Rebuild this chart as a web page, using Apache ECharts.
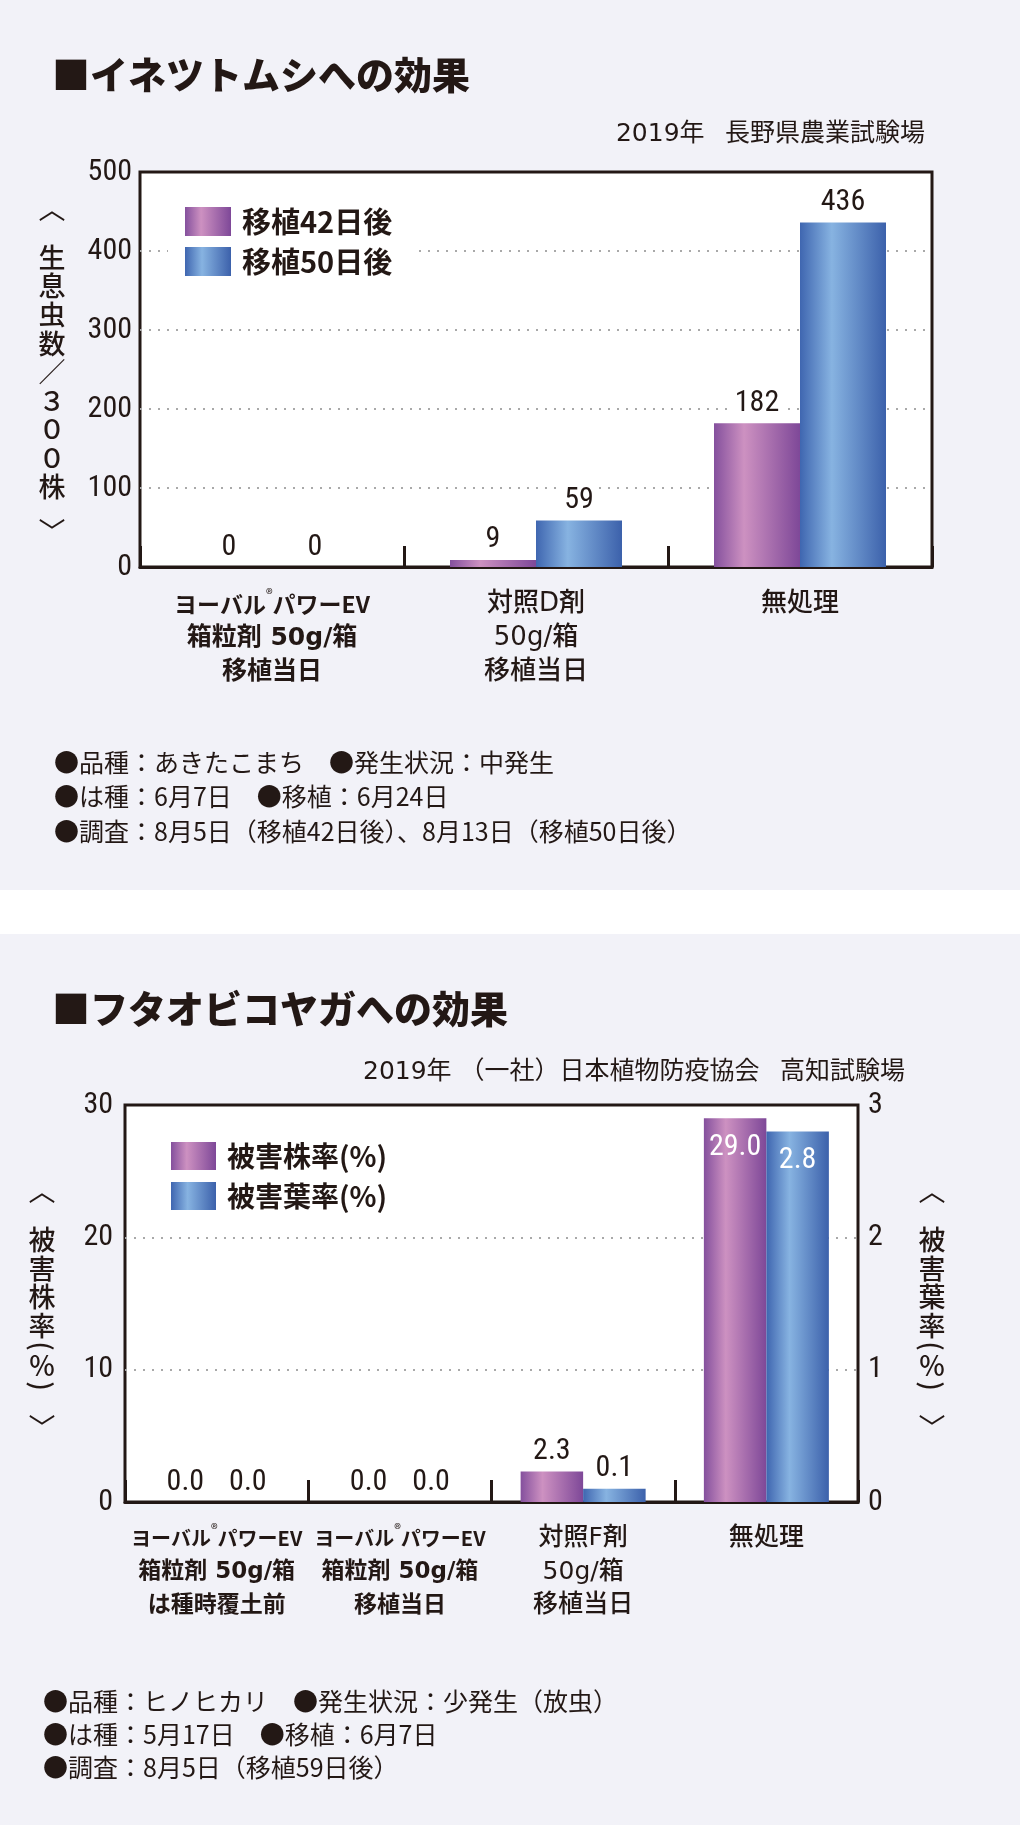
<!DOCTYPE html>
<html lang="ja">
<head>
<meta charset="utf-8">
<title>イネツトムシ・フタオビコヤガへの効果</title>
<script src="https://cdn.jsdelivr.net/npm/echarts@6.0.0/dist/echarts.min.js"></script>
<style>
  html, body { margin: 0; padding: 0; background: #F2F2F8; }
  #chart { width: 1020px; height: 1825px; }
</style>
</head>
<body>
<div id="chart"></div>
<script>
// ---------------- DATA ----------------
// Panel 1: イネツトムシ
const title1 = '■イネツトムシへの効果';
const source1 = '2019年\u2002 長野県農業試験場';
const cats1 = ['ヨーバル®パワーEV\n箱粒剤 50g/箱\n移植当日', '対照D剤\n50g/箱\n移植当日', '無処理'];
const bold1 = [true, false, false];
const names1 = ['移植42日後', '移植50日後'];
const vals1a = [0, 9, 182];      // 移植42日後
const vals1b = [0, 59, 436];     // 移植50日後
const yTicks1 = [0, 100, 200, 300, 400, 500];
const yName1 = ['生', '息', '虫', '数', '／', '３', '０', '０', '株'];
const notes1 = [
  '●品種：あきたこまち　●発生状況：中発生',
  '●は種：6月7日　●移植：6月24日',
  '●調査：8月5日（移植42日後）、8月13日（移植50日後）'
];

// Panel 2: フタオビコヤガ
const title2 = '■フタオビコヤガへの効果';
const source2 = '2019年 （一社）日本植物防疫協会\u2002 高知試験場';
const cats2 = ['ヨーバル®パワーEV\n箱粒剤 50g/箱\nは種時覆土前', 'ヨーバル®パワーEV\n箱粒剤 50g/箱\n移植当日', '対照F剤\n50g/箱\n移植当日', '無処理'];
const bold2 = [true, true, false, false];
const names2 = ['被害株率(%)', '被害葉率(%)'];
const vals2a = [0.0, 0.0, 2.3, 29.0];   // 被害株率(%) left axis
const vals2b = [0.0, 0.0, 0.1, 2.8];    // 被害葉率(%) right axis
const yTicks2L = [0, 10, 20, 30];
const yTicks2R = [0, 1, 2, 3];
const yName2L = ['被', '害', '株', '率'];
const yName2R = ['被', '害', '葉', '率'];
const notes2 = [
  '●品種：ヒノヒカリ　●発生状況：少発生（放虫）',
  '●は種：5月17日　●移植：6月7日',
  '●調査：8月5日（移植59日後）'
];

// ---------------- STYLE ----------------
const INK = '#231815';
const JP = "'Noto Sans CJK JP','Noto Sans CJK SC',sans-serif";
const LATJP = "'DejaVu Sans','Noto Sans CJK JP',sans-serif";
const NUM = "'Liberation Sans Narrow','Roboto Condensed','Arial Narrow','DejaVu Sans Condensed',sans-serif";
const NUMW = 'normal';
const GRIDLINE = { type: [2, 7], width: 2, color: '#a9a9a9' };

const purpleGrad = () => new echarts.graphic.LinearGradient(0, 0, 1, 0, [
  { offset: 0, color: '#84509d' }, { offset: 0.35, color: '#cd91c1' }, { offset: 1, color: '#7e4898' }
]);
const blueGrad = () => new echarts.graphic.LinearGradient(0, 0, 1, 0, [
  { offset: 0, color: '#3f66b0' }, { offset: 0.37, color: '#87b3e1' }, { offset: 1, color: '#3c61ab' }
]);

function catFormatter(boldArr) {
  return function (v, i) {
    return v.split('\n').map(function (line) {
      let st = boldArr[i] ? 'b' : 'n';
      if (line.indexOf('®') >= 0) st = 'p';
      return line.split('®').map(s => '{' + st + '|' + s + '}').join('{r|®}');
    }).join('\n');
  };
}
function catRich(pSize, bSize, nSize, lh) {
  return {
    p: { fontFamily: JP, fontWeight: 'bold', fontSize: pSize, lineHeight: lh, color: INK, align: 'center' },
    b: { fontFamily: LATJP, fontWeight: 'bold', fontSize: bSize, lineHeight: lh, color: INK, align: 'center' },
    n: { fontFamily: LATJP, fontWeight: '500', fontSize: nSize, lineHeight: lh, color: INK, align: 'center' },
    r: { fontFamily: JP, fontWeight: 'normal', fontSize: 14, lineHeight: 26, color: INK, align: 'center', verticalAlign: 'top' }
  };
}

function txt(text, x, y, size, weight, align, family, rot) {
  const el = {
    type: 'text', x: x, y: y, silent: true,
    style: {
      text: text, fill: INK, fontSize: size, fontWeight: weight || 'normal',
      fontFamily: family || JP,
      align: align || 'left', textAlign: align || 'left',
      verticalAlign: 'middle', textVerticalAlign: 'middle'
    }
  };
  if (rot) el.rotation = rot;
  return el;
}
// vertical axis name: open bracket, stacked chars, close bracket
function vName(x, topBracketY, firstY, pitch, chars, extra, bottomBracketY) {
  const els = [txt('︿', x, topBracketY, 27, 'normal', 'center')];
  chars.forEach((c, i) => els.push(txt(c, x, firstY + i * pitch, 27, '500', 'center')));
  (extra || []).forEach(e => els.push(txt(e[0], x, e[1], 27, '500', 'center', JP, e[2])));
  els.push(txt('﹀', x, bottomBracketY, 27, 'normal', 'center'));
  return els;
}

const graphics = [
  { type: 'rect', shape: { x: 0, y: 890, width: 1020, height: 44 }, style: { fill: '#ffffff' }, silent: true },
  txt(title1, 52, 75, 38, '900', 'left'),
  txt(source1, 925, 134, 25, 'normal', 'right', LATJP),
  txt(title2, 52, 1009, 38, '900', 'left'),
  txt(source2, 905, 1072, 25, 'normal', 'right', LATJP)
];
notes1.forEach((t, i) => graphics.push(txt(t, 54, 762 + i * 34.5, 25, 'normal', 'left')));
notes2.forEach((t, i) => graphics.push(txt(t, 43, 1701 + i * 33, 25, 'normal', 'left')));
vName(52, 209, 257.5, 28.6, yName1, [], 532).forEach(e => graphics.push(e));
const parenRot = -Math.PI / 2;
const pctExtra = [['(', 1346, parenRot], ['％', 1366], [')', 1386, parenRot]];
vName(42, 1191, 1240, 28.5, yName2L, pctExtra, 1428).forEach(e => graphics.push(e));
vName(932, 1191, 1240, 28.5, yName2R, pctExtra, 1428).forEach(e => graphics.push(e));

const valLabel = (fmt) => ({
  show: true, position: 'top', distance: 5,
  fontFamily: NUM, fontWeight: NUMW, fontSize: 30, color: INK,
  backgroundColor: '#ffffff', padding: [0, 5],
  formatter: fmt
});
const insideItem = { position: 'insideTop', distance: 14, color: '#ffffff', backgroundColor: 'transparent' };
const fmtInt = p => String(p.value);
const fmt1 = p => Number(p.value).toFixed(1);
const axisNum = (margin) => ({ margin: margin, fontFamily: NUM, fontWeight: NUMW, fontSize: 30, color: INK });

const option = {
  animation: false,
  backgroundColor: '#F2F2F8',
  graphic: graphics,
  legend: [
    {
      data: names1, orient: 'vertical', left: 168, top: 197, padding: [10, 22, 10, 17],
      backgroundColor: '#ffffff', itemWidth: 46, itemHeight: 29, itemGap: 11, icon: 'rect',
      selectedMode: false,
      textStyle: { fontFamily: JP, fontSize: 29, fontWeight: 'bold', color: INK, lineHeight: 29, padding: [0, 0, 0, 6] }
    },
    {
      data: names2, orient: 'vertical', left: 154, top: 1132, padding: [10, 22, 10, 17],
      backgroundColor: '#ffffff', itemWidth: 45, itemHeight: 28, itemGap: 12, icon: 'rect',
      selectedMode: false,
      textStyle: { fontFamily: JP, fontSize: 28, fontWeight: 'bold', color: INK, lineHeight: 28, padding: [0, 0, 0, 6] }
    }
  ],
  grid: [
    { left: 140, top: 172, width: 792, height: 395, show: true, backgroundColor: '#ffffff', borderColor: INK, borderWidth: 3 },
    { left: 125, top: 1105, width: 733, height: 397, show: true, backgroundColor: '#ffffff', borderColor: INK, borderWidth: 3 }
  ],
  xAxis: [
    {
      gridIndex: 0, type: 'category', data: cats1,
      axisLine: { show: true, lineStyle: { color: INK, width: 3 } },
      axisTick: { show: true, inside: true, length: 21, lineStyle: { color: INK, width: 3 } },
      axisLabel: { interval: 0, margin: 20, formatter: catFormatter(bold1), rich: catRich(23, 25, 26, 34) },
      splitLine: { show: false }
    },
    {
      gridIndex: 1, type: 'category', data: cats2,
      axisLine: { show: true, lineStyle: { color: INK, width: 3 } },
      axisTick: { show: true, inside: true, length: 22, lineStyle: { color: INK, width: 3 } },
      axisLabel: { interval: 0, margin: 20, formatter: catFormatter(bold2), rich: catRich(20, 23, 25, 33.5) },
      splitLine: { show: false }
    }
  ],
  yAxis: [
    {
      gridIndex: 0, type: 'value', min: yTicks1[0], max: yTicks1[yTicks1.length - 1], interval: yTicks1[1] - yTicks1[0],
      axisLine: { show: false }, axisTick: { show: false },
      axisLabel: axisNum(8),
      splitLine: { show: true, showMinLine: false, showMaxLine: false, lineStyle: GRIDLINE }
    },
    {
      gridIndex: 1, type: 'value', min: yTicks2L[0], max: yTicks2L[yTicks2L.length - 1], interval: yTicks2L[1] - yTicks2L[0],
      axisLine: { show: false }, axisTick: { show: false },
      axisLabel: axisNum(12),
      splitLine: { show: true, showMinLine: false, showMaxLine: false, lineStyle: GRIDLINE }
    },
    {
      gridIndex: 1, type: 'value', position: 'right', min: yTicks2R[0], max: yTicks2R[yTicks2R.length - 1], interval: yTicks2R[1] - yTicks2R[0],
      axisLine: { show: false }, axisTick: { show: false },
      axisLabel: axisNum(10),
      splitLine: { show: false }
    }
  ],
  series: [
    {
      name: names1[0], type: 'bar', xAxisIndex: 0, yAxisIndex: 0, data: vals1a,
      barWidth: 86, barGap: '0%', itemStyle: { color: purpleGrad() }, label: valLabel(fmtInt)
    },
    {
      name: names1[1], type: 'bar', xAxisIndex: 0, yAxisIndex: 0, data: vals1b,
      barWidth: 86, barGap: '0%', itemStyle: { color: blueGrad() }, label: valLabel(fmtInt)
    },
    {
      name: names2[0], type: 'bar', xAxisIndex: 1, yAxisIndex: 1,
      data: vals2a.map((v, i) => i === cats2.length - 1 ? { value: v, label: insideItem } : v),
      barWidth: 62.5, barGap: '0%', itemStyle: { color: purpleGrad() }, label: valLabel(fmt1)
    },
    {
      name: names2[1], type: 'bar', xAxisIndex: 1, yAxisIndex: 2,
      data: vals2b.map((v, i) => i === cats2.length - 1 ? { value: v, label: insideItem } : v),
      barWidth: 62.5, barGap: '0%', itemStyle: { color: blueGrad() }, label: valLabel(fmt1)
    }
  ]
};

const chart = echarts.init(document.getElementById('chart'), null, { renderer: 'canvas' });
chart.setOption(option);
</script>
</body>
</html>
